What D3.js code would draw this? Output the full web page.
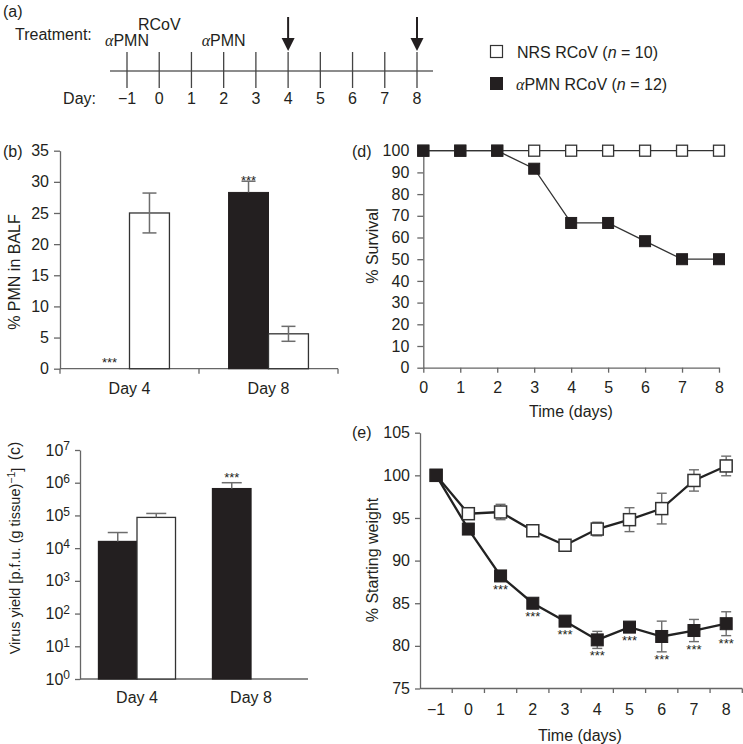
<!DOCTYPE html>
<html><head><meta charset="utf-8">
<script src="https://cdn.jsdelivr.net/npm/d3@7"></script>
<style>
body{margin:0;background:#fff}
text{font-family:"Liberation Sans",Arial,Helvetica,sans-serif;fill:#231f20}
</style>
</head><body>
<svg id="chart" width="743" height="744"></svg>
<script>
// ---------------- DATA ----------------
// (a) timeline
const timelineDays = [-1,0,1,2,3,4,5,6,7,8];
const arrowDays = [4,8];
const treatmentLabels = [
  {text:"PMN", alpha:true, day:-1, row:2},
  {text:"RCoV", alpha:false, day:0, row:1},
  {text:"PMN", alpha:true, day:2, row:2}
];
// (b) % PMN in BALF
const barCategories = ["Day 4","Day 8"];
const pmnAlpha = [0, 28.3];
const pmnAlphaErr = [0, 1.8];
const pmnNRS = [25.0, 5.6];
const pmnNRSErr = [3.2, 1.2];
const pmnAlphaSig = [true, true];
const pmnTicks = [0,5,10,15,20,25,30,35];
// (c) virus yield (log)
const virusAlpha = [1.6e4, 6.6e5];
const virusAlphaUpper = [3.0e4, 1.0e6];
const virusNRS = [8.7e4, null];
const virusNRSUpper = [1.15e5, null];
const virusAlphaSig = [false, true];
const virusTicks = [1,1e1,1e2,1e3,1e4,1e5,1e6,1e7];
// (d) survival
const survDays = [0,1,2,3,4,5,6,7,8];
const survNRS = [100,100,100,100,100,100,100,100,100];
const survAlpha = [100,100,100,91.7,66.7,66.7,58.3,50,50];
const survTicks = [0,10,20,30,40,50,60,70,80,90,100];
// (e) weight
const weightDays = [-1,0,1,2,3,4,5,6,7,8];
const weightNRS = [100,95.5,95.7,93.5,91.8,93.7,94.8,96.1,99.4,101.1];
const weightNRSErr = [0,0.3,0.9,0.4,0.4,0.8,1.4,1.8,1.25,1.15];
const weightAlpha = [100,93.7,88.2,85.0,82.9,80.7,82.2,81.1,81.8,82.6];
const weightAlphaErr = [0,0.3,0.3,0.3,0.3,1.0,0.5,1.8,1.3,1.4];
const weightAlphaSig = [false,false,true,true,true,true,true,true,true,true];
const weightTicks = [75,80,85,90,95,100,105];

// ---------------- STYLE ----------------
const INK = "#231f20", AX = "#666", ERR = "#6d6d6d";
const svg = d3.select("#chart");
const minus = v => String(v).replace("-", "\u2212");

function styleAxis(g, fs){
  g.select(".domain").attr("stroke", AX).attr("stroke-width", 1.3);
  g.selectAll(".tick line").attr("stroke", AX).attr("stroke-width", 1.3);
  g.selectAll(".tick text").attr("fill", INK).style("font-size", (fs||16)+"px")
    .style("font-family", '"Liberation Sans",Arial,sans-serif');
}
function alphaText(sel, rest){
  sel.append("tspan").text("\u03B1").style("font-style","italic")
     .style("font-family",'"Liberation Serif","DejaVu Serif",serif');
  sel.append("tspan").text(rest);
}

// ---------------- (a) timeline ----------------
const xa = d3.scaleLinear().domain([-1,8]).range([127,417]);
svg.append("text").attr("x",3).attr("y",17).style("font-size","16px").text("(a)");
svg.append("text").attr("x",15).attr("y",40).style("font-size","16px").text("Treatment:");
svg.append("text").attr("x",96).attr("y",104).attr("text-anchor","end").style("font-size","16px").text("Day:");
svg.append("line").attr("x1",110).attr("x2",433).attr("y1",71).attr("y2",71).attr("stroke",AX).attr("stroke-width",1.4);
svg.selectAll(".tlTick").data(timelineDays).enter().append("line")
  .attr("x1",d=>xa(d)).attr("x2",d=>xa(d)).attr("y1",52).attr("y2",88).attr("stroke","#444").attr("stroke-width",1.3);
svg.selectAll(".tlLab").data(timelineDays).enter().append("text")
  .attr("x",d=>xa(d)).attr("y",104).attr("text-anchor","middle").style("font-size","16px").text(d=>minus(d));
treatmentLabels.forEach(t=>{
  const tx = svg.append("text").attr("x",xa(t.day)).attr("y",t.row===1?30:46)
    .attr("text-anchor","middle").style("font-size","16px");
  if(t.alpha) alphaText(tx, t.text); else tx.text(t.text);
});
arrowDays.forEach(d=>{
  const x = xa(d);
  svg.append("line").attr("x1",x).attr("x2",x).attr("y1",17).attr("y2",40).attr("stroke",INK).attr("stroke-width",2);
  svg.append("path").attr("d",`M${x-6.5},38 L${x+6.5},38 L${x},51 Z`).attr("fill",INK);
});

// legend
svg.append("rect").attr("x",490.5).attr("y",45.5).attr("width",12).attr("height",12).attr("fill","#fff").attr("stroke","#333").attr("stroke-width",1.2);
svg.append("rect").attr("x",490).attr("y",77).attr("width",13).attr("height",13).attr("fill",INK);
{
  const t1 = svg.append("text").attr("x",517).attr("y",57.5).style("font-size","16px");
  t1.append("tspan").text("NRS RCoV (");
  t1.append("tspan").text("n").style("font-style","italic");
  t1.append("tspan").text(" = 10)");
  const t2 = svg.append("text").attr("x",516).attr("y",89.5).style("font-size","16px");
  alphaText(t2, "PMN RCoV (");
  t2.append("tspan").text("n").style("font-style","italic");
  t2.append("tspan").text(" = 12)");
}

// ---------------- (b) ----------------
{
  const bx = d3.scaleBand().domain(barCategories).range([60,338]);
  const bs = d3.scaleBand().domain(["alpha","nrs"]).range([0,bx.bandwidth()]).paddingInner(0).paddingOuter(0.74);
  const by = d3.scaleLinear().domain([0,35]).range([368.7,150.7]);
  const g = svg.append("g");
  const ya = g.append("g").attr("transform","translate(60,0)")
    .call(d3.axisLeft(by).tickValues(pmnTicks).tickSize(6).tickSizeOuter(0).tickPadding(5));
  styleAxis(ya);
  // x axis
  g.append("line").attr("x1",60).attr("x2",338).attr("y1",by(0)).attr("y2",by(0)).attr("stroke",AX).attr("stroke-width",1.3);
  const bounds = [60].concat(barCategories.map(c=>bx(c)+bx.bandwidth()));
  g.selectAll(".bt").data(bounds).enter().append("line").attr("x1",d=>d).attr("x2",d=>d)
    .attr("y1",by(0)).attr("y2",by(0)+5).attr("stroke",AX).attr("stroke-width",1.3);
  g.selectAll(".bl").data(barCategories).enter().append("text")
    .attr("x",d=>bx(d)+bx.bandwidth()/2).attr("y",394).attr("text-anchor","middle").style("font-size","16px").text(d=>d);
  barCategories.forEach((c,i)=>{
    const xA = bx(c)+bs("alpha"), xN = bx(c)+bs("nrs"), w = bs.bandwidth();
    if(pmnAlpha[i]>0){
      g.append("rect").attr("x",xA).attr("y",by(pmnAlpha[i])).attr("width",w).attr("height",by(0)-by(pmnAlpha[i]))
        .attr("fill",INK).attr("stroke",INK);
      const yt = by(pmnAlpha[i]+pmnAlphaErr[i]);
      g.append("line").attr("x1",xA+w/2).attr("x2",xA+w/2).attr("y1",by(pmnAlpha[i])).attr("y2",yt).attr("stroke",ERR).attr("stroke-width",1.5);
      g.append("line").attr("x1",xA+w/2-7).attr("x2",xA+w/2+7).attr("y1",yt).attr("y2",yt).attr("stroke",ERR).attr("stroke-width",1.5);
    }
    g.append("rect").attr("x",xN).attr("y",by(pmnNRS[i])).attr("width",w).attr("height",by(0)-by(pmnNRS[i]))
      .attr("fill","#fff").attr("stroke","#333").attr("stroke-width",1.3);
    const lo = by(pmnNRS[i]-pmnNRSErr[i]), hi = by(pmnNRS[i]+pmnNRSErr[i]);
    g.append("line").attr("x1",xN+w/2).attr("x2",xN+w/2).attr("y1",lo).attr("y2",hi).attr("stroke",ERR).attr("stroke-width",1.5);
    [lo,hi].forEach(yy=>g.append("line").attr("x1",xN+w/2-7).attr("x2",xN+w/2+7).attr("y1",yy).attr("y2",yy).attr("stroke",ERR).attr("stroke-width",1.5));
    if(pmnAlphaSig[i]){
      const yy = pmnAlpha[i]>0 ? by(pmnAlpha[i]+pmnAlphaErr[i])+4 : by(0)-2;
      g.append("text").attr("x",xA+w/2).attr("y",yy).attr("text-anchor","middle").style("font-size","13px").text("***");
    }
  });
  svg.append("text").attr("x",3).attr("y",157).style("font-size","16px").text("(b)");
  svg.append("text").attr("transform","translate(20,272) rotate(-90)").attr("text-anchor","middle").style("font-size","16px").text("% PMN in BALF");
}

// ---------------- (c) ----------------
{
  const cx = d3.scaleBand().domain(barCategories).range([80,308]);
  const cs = d3.scaleBand().domain(["alpha","nrs"]).range([0,cx.bandwidth()]).paddingInner(0).paddingOuter(0.48);
  const cy = d3.scaleLog().domain([1,1e7]).range([679,450]);
  const g = svg.append("g");
  const ya = g.append("g").attr("transform","translate(80,0)")
    .call(d3.axisLeft(cy).tickValues(virusTicks).tickSize(5).tickSizeOuter(0).tickPadding(5).tickFormat(""));
  styleAxis(ya);
  ya.selectAll(".tick text").each(function(d){
    const t = d3.select(this);
    t.append("tspan").text("10");
    t.append("tspan").text(Math.round(Math.log10(d))).attr("dy","-0.45em").style("font-size","12px");
  });
  g.append("line").attr("x1",80).attr("x2",308).attr("y1",679).attr("y2",679).attr("stroke",AX).attr("stroke-width",1.3);
  g.selectAll(".cl").data(barCategories).enter().append("text")
    .attr("x",d=>cx(d)+cx.bandwidth()/2).attr("y",703).attr("text-anchor","middle").style("font-size","16px").text(d=>d);
  barCategories.forEach((c,i)=>{
    const w = cs.bandwidth();
    const series = [
      {x:cx(c)+cs("alpha"), v:virusAlpha[i], up:virusAlphaUpper[i], fill:INK, sig:virusAlphaSig[i]},
      {x:cx(c)+cs("nrs"), v:virusNRS[i], up:virusNRSUpper[i], fill:"#fff", sig:false}
    ];
    series.forEach(s=>{
      if(s.v==null) return;
      g.append("rect").attr("x",s.x).attr("y",cy(s.v)).attr("width",w).attr("height",cy(1)-cy(s.v))
        .attr("fill",s.fill).attr("stroke",s.fill===INK?INK:"#333").attr("stroke-width",1.3);
      const yt = cy(s.up);
      g.append("line").attr("x1",s.x+w/2).attr("x2",s.x+w/2).attr("y1",cy(s.v)).attr("y2",yt).attr("stroke",ERR).attr("stroke-width",1.5);
      g.append("line").attr("x1",s.x+w/2-10).attr("x2",s.x+w/2+10).attr("y1",yt).attr("y2",yt).attr("stroke",ERR).attr("stroke-width",1.5);
      if(s.sig) g.append("text").attr("x",s.x+w/2).attr("y",yt-1).attr("text-anchor","middle").style("font-size","13px").text("***");
    });
  });
  svg.append("text").attr("transform","translate(20,451) rotate(-90)").attr("text-anchor","middle").style("font-size","16px").text("(c)");
  const yl = svg.append("text").attr("transform","translate(20,561) rotate(-90)").attr("text-anchor","middle").style("font-size","14.5px");
  yl.append("tspan").text("Virus yield [p.f.u. (g tissue)");
  yl.append("tspan").text("\u22121").attr("dy","-0.45em").style("font-size","10.5px");
  yl.append("tspan").text("]").attr("dy","0.45em");
}

// ---------------- (d) ----------------
{
  const dx = d3.scaleLinear().domain([0,8]).range([423.3,719]);
  const dy = d3.scaleLinear().domain([0,100]).range([367.7,150.7]);
  const g = svg.append("g");
  const ya = g.append("g").attr("transform","translate(423.3,0)")
    .call(d3.axisLeft(dy).tickValues(survTicks).tickSize(6).tickSizeOuter(0).tickPadding(8));
  styleAxis(ya);
  const xax = g.append("g").attr("transform","translate(0,367.7)")
    .call(d3.axisBottom(dx).tickValues(survDays).tickSize(5).tickSizeOuter(0).tickPadding(9));
  styleAxis(xax);
  const line = d3.line().x(d=>dx(d[0])).y(d=>dy(d[1]));
  const nrs = survDays.map((d,i)=>[d,survNRS[i]]);
  const alp = survDays.map((d,i)=>[d,survAlpha[i]]);
  g.append("path").attr("d",line(nrs)).attr("fill","none").attr("stroke","#333").attr("stroke-width",1.3);
  g.append("path").attr("d",line(alp)).attr("fill","none").attr("stroke","#333").attr("stroke-width",1.3);
  const s = 11;
  g.selectAll(".dn").data(nrs).enter().append("rect").attr("x",d=>dx(d[0])-s/2).attr("y",d=>dy(d[1])-s/2)
    .attr("width",s).attr("height",s).attr("fill","#fff").attr("stroke","#333").attr("stroke-width",1.3);
  g.selectAll(".da").data(alp).enter().append("rect").attr("x",d=>dx(d[0])-s/2).attr("y",d=>dy(d[1])-s/2)
    .attr("width",s).attr("height",s).attr("fill",INK).attr("stroke",INK).attr("stroke-width",1);
  svg.append("text").attr("x",352).attr("y",157).style("font-size","16px").text("(d)");
  svg.append("text").attr("transform","translate(378,246) rotate(-90)").attr("text-anchor","middle").style("font-size","16px").text("% Survival");
  svg.append("text").attr("x",571).attr("y",417).attr("text-anchor","middle").style("font-size","16px").text("Time (days)");
}

// ---------------- (e) ----------------
{
  const ex = d3.scaleBand().domain(weightDays).range([420,742.3]);
  const xc = d => ex(d)+ex.bandwidth()/2;
  const ey = d3.scaleLinear().domain([75,105]).range([688.5,432.7]);
  const g = svg.append("g");
  const ya = g.append("g").attr("transform","translate(420,0)")
    .call(d3.axisLeft(ey).tickValues(weightTicks).tickSize(5).tickSizeOuter(0).tickPadding(5));
  styleAxis(ya);
  g.append("line").attr("x1",420).attr("x2",742.3).attr("y1",688.5).attr("y2",688.5).attr("stroke",AX).attr("stroke-width",1.3);
  const bnds = weightDays.map(d=>ex(d)+ex.bandwidth());
  g.selectAll(".et").data(bnds).enter().append("line").attr("x1",d=>d).attr("x2",d=>d)
    .attr("y1",688.5).attr("y2",693).attr("stroke",AX).attr("stroke-width",1.3);
  g.selectAll(".el").data(weightDays).enter().append("text").attr("x",d=>xc(d)).attr("y",715)
    .attr("text-anchor","middle").style("font-size","16px").text(d=>minus(d));
  const line = d3.line().x(d=>xc(d[0])).y(d=>ey(d[1]));
  const nrs = weightDays.map((d,i)=>[d,weightNRS[i],weightNRSErr[i]]);
  const alp = weightDays.map((d,i)=>[d,weightAlpha[i],weightAlphaErr[i],weightAlphaSig[i]]);
  g.append("path").attr("d",line(nrs)).attr("fill","none").attr("stroke","#222").attr("stroke-width",2.3);
  g.append("path").attr("d",line(alp)).attr("fill","none").attr("stroke","#222").attr("stroke-width",2.3);
  [nrs,alp].forEach(ser=>ser.forEach(d=>{
    if(!d[2]) return;
    const x = xc(d[0]), lo = ey(d[1]-d[2]), hi = ey(d[1]+d[2]);
    g.append("line").attr("x1",x).attr("x2",x).attr("y1",lo).attr("y2",hi).attr("stroke",ERR).attr("stroke-width",1.4);
    [lo,hi].forEach(yy=>g.append("line").attr("x1",x-5).attr("x2",x+5).attr("y1",yy).attr("y2",yy).attr("stroke",ERR).attr("stroke-width",1.4));
  }));
  const s = 12;
  g.selectAll(".en").data(nrs).enter().append("rect").attr("x",d=>xc(d[0])-s/2).attr("y",d=>ey(d[1])-s/2)
    .attr("width",s).attr("height",s).attr("fill","#fff").attr("stroke","#333").attr("stroke-width",1.5);
  g.selectAll(".ea").data(alp).enter().append("rect").attr("x",d=>xc(d[0])-s/2).attr("y",d=>ey(d[1])-s/2)
    .attr("width",s).attr("height",s).attr("fill",INK).attr("stroke",INK).attr("stroke-width",1);
  alp.forEach(d=>{
    if(!d[3]) return;
    const yb = Math.max(ey(d[1])+s/2, ey(d[1]-d[2])) + 12;
    g.append("text").attr("x",xc(d[0])).attr("y",yb).attr("text-anchor","middle").style("font-size","13px").text("***");
  });
  svg.append("text").attr("x",352).attr("y",438).style("font-size","16px").text("(e)");
  svg.append("text").attr("transform","translate(378,560) rotate(-90)").attr("text-anchor","middle").style("font-size","16px").text("% Starting weight");
  svg.append("text").attr("x",580).attr("y",741).attr("text-anchor","middle").style("font-size","16px").text("Time (days)");
}
</script>
</body></html>
